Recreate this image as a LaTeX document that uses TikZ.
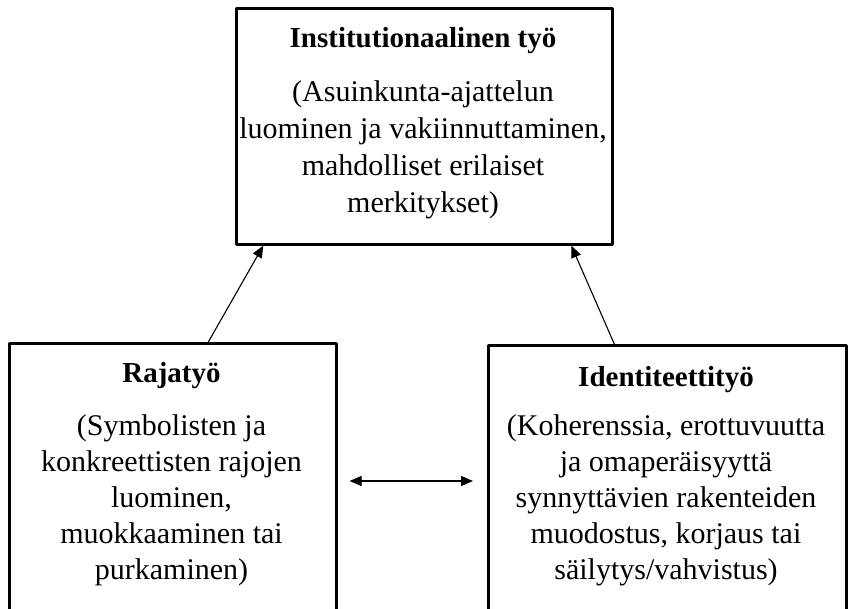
\documentclass[tikz,border=0pt]{standalone}
\usepackage{fontspec}
\setmainfont{Liberation Serif}
\usetikzlibrary{arrows.meta}
\begin{document}
\begin{tikzpicture}[x=1pt, y=-1pt, line join=round, >={Triangle[length=12pt,width=10pt]},
	box/.style={draw, line width=2.6pt, inner sep=0pt, anchor=north west},
	head/.style={font=\fontsize{29}{36}\selectfont\bfseries, anchor=base, inner sep=0pt},
	body/.style={font=\fontsize{30}{37}\selectfont, align=center, anchor=north, inner sep=0pt},
	arr/.style={->, line width=1.1pt}]
	\useasboundingbox (0,0) rectangle (848,609);
	\clip (0,0) rectangle (848,609);
	% laatikot
	\node[box, minimum width=376pt, minimum height=236pt] (inst) at (235,7) {};
	\node[box, minimum width=327pt, minimum height=300pt] (raja) at (8,342) {};
	\node[box, minimum width=358pt, minimum height=300pt] (iden) at (487,344) {};
	% tekstit
	\node[head] (insth) at (423,48) {Institutionaalinen työ};
	\node[body] (instb) at (423,80) {(Asuinkunta-ajattelun\\luominen ja vakiinnuttaminen,\\mahdolliset erilaiset\\merkitykset)};
	\node[head] (rajah) at (171.5,382) {Rajatyö};
	\node[body, font=\fontsize{30}{36}\selectfont] (rajab) at (171.5,414) {(Symbolisten ja\\konkreettisten rajojen\\luominen,\\muokkaaminen tai\\purkaminen)};
	\node[head] (idenh) at (666,386) {Identiteettityö};
	\node[body, font=\fontsize{30}{36}\selectfont] (idenb) at (666,414) {(Koherenssia, erottuvuutta\\ja omaperäisyyttä\\synnyttävien rakenteiden\\muodostus, korjaus tai\\säilytys/vahvistus)};
	% nuolet
	\draw[arr] ([xshift=35.5pt]raja.north) -- ([xshift=-161pt]inst.south);
	\draw[arr] ([xshift=-53pt]iden.north) -- ([xshift=147pt]inst.south);
	\draw[arr, <->] ([xshift=12pt,yshift=-139pt]raja.north east) -- ([xshift=-14pt,yshift=-137pt]iden.north west);
\end{tikzpicture}
\end{document}
